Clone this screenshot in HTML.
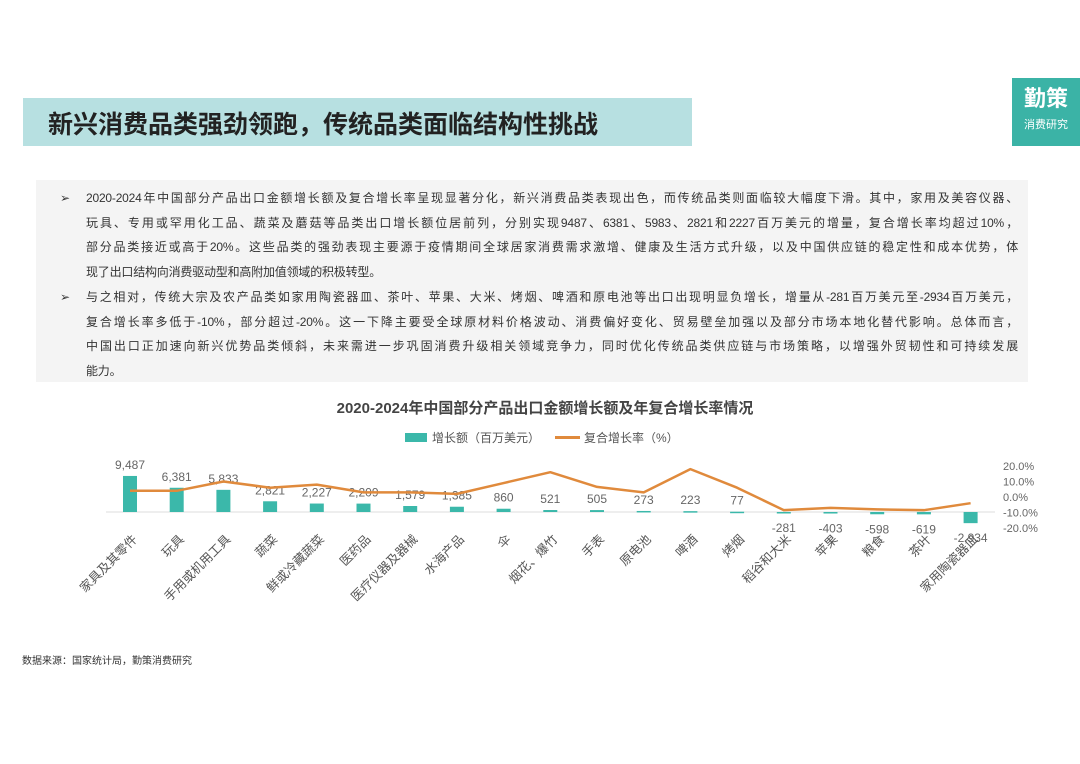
<!DOCTYPE html>
<html><head><meta charset="utf-8"><style>
body{margin:0;width:1080px;height:764px;background:#fff;position:relative;overflow:hidden;font-family:"Liberation Sans","Noto Sans CJK SC",sans-serif;}
.banner{position:absolute;left:23px;top:98px;width:669px;height:48px;background:#b7e0e1;}
.banner span{position:absolute;left:25px;top:7px;font-size:25px;font-weight:bold;color:#222;}
.logo{position:absolute;left:1012px;top:78px;width:68px;height:68px;background:#3bb3a6;color:#fff;text-align:center;}
.logo .a{font-size:22px;font-weight:bold;margin-top:8px;line-height:26px;}
.logo .b{font-size:11px;margin-top:4px;}
.box{position:absolute;left:36px;top:180px;width:992px;height:202px;background:#f4f4f4;}
.p{position:absolute;left:50px;width:970px;font-size:12px;line-height:24.7px;color:#333;}
.p .ar{position:absolute;left:10px;}
.p .t{margin-left:36px;width:932px;}
.p .l{white-space:nowrap;text-align:justify;text-align-last:justify;letter-spacing:-0.2px;}
.p .l.last{text-align-last:left;}
.src{position:absolute;left:22px;top:652px;font-size:10px;color:#333;}
</style></head><body>
<div class="banner"><span>新兴消费品类强劲领跑，传统品类面临结构性挑战</span></div>
<div class="logo"><div class="a">勤策</div><div class="b">消费研究</div></div>
<div class="box"></div>
<div class="p" style="top:186px"><span class="ar">➢</span><div class="t">
<div class="l">2020-2024年中国部分产品出口金额增长额及复合增长率呈现显著分化，新兴消费品类表现出色，而传统品类则面临较大幅度下滑。其中，家用及美容仪器、</div>
<div class="l">玩具、专用或罕用化工品、蔬菜及蘑菇等品类出口增长额位居前列，分别实现9487、6381、5983、2821和2227百万美元的增量，复合增长率均超过10%，</div>
<div class="l">部分品类接近或高于20%。这些品类的强劲表现主要源于疫情期间全球居家消费需求激增、健康及生活方式升级，以及中国供应链的稳定性和成本优势，体</div>
<div class="l last">现了出口结构向消费驱动型和高附加值领域的积极转型。</div>
</div></div>
<div class="p" style="top:285px"><span class="ar">➢</span><div class="t">
<div class="l">与之相对，传统大宗及农产品类如家用陶瓷器皿、茶叶、苹果、大米、烤烟、啤酒和原电池等出口出现明显负增长，增量从-281百万美元至-2934百万美元，</div>
<div class="l">复合增长率多低于-10%，部分超过-20%。这一下降主要受全球原材料价格波动、消费偏好变化、贸易壁垒加强以及部分市场本地化替代影响。总体而言，</div>
<div class="l">中国出口正加速向新兴优势品类倾斜，未来需进一步巩固消费升级相关领域竞争力，同时优化传统品类供应链与市场策略，以增强外贸韧性和可持续发展</div>
<div class="l last">能力。</div>
</div></div>
<svg id="chart" width="1080" height="764" style="position:absolute;left:0;top:0"></svg>
<div class="src">数据来源：国家统计局，勤策消费研究</div>
<script>
const categories=["家具及其零件","玩具","手用或机用工具","蔬菜","鲜或冷藏蔬菜","医药品","医疗仪器及器械","水海产品","伞","烟花、爆竹","手表","原电池","啤酒","烤烟","稻谷和大米","苹果","粮食","茶叶","家用陶瓷器皿"];
const growthValues=[9487,6381,5833,2821,2227,2209,1579,1385,860,521,505,273,223,77,-281,-403,-598,-619,-2934];
const cagrValues=[4,4,10,6,8,3,3,2,9,16,6.5,3,18,6,-8.5,-7,-8,-8.5,-4];
const rightTicks=[20,10,0,-10,-20];
const NS="http://www.w3.org/2000/svg";
const svg=document.getElementById('chart');
function mk(t,a,txt){const e=document.createElementNS(NS,t);for(const k in a)e.setAttribute(k,a[k]);if(txt!==undefined)e.textContent=txt;svg.appendChild(e);return e;}
const x0=130,dx=46.7,base=512;
const xs=i=>x0+i*dx;
const yBar=v=>base-v*0.0038;
const yR=v=>497-v*1.55;
const font='"Liberation Sans","Noto Sans CJK SC",sans-serif';
let t=mk('text',{x:545,y:413,'text-anchor':'middle','font-size':15,'font-weight':'bold',fill:'#444','font-family':font},'2020-2024年中国部分产品出口金额增长额及年复合增长率情况');


let r=mk('rect',{x:405,y:433,width:22,height:9,fill:'#3bb8aa'});


t=mk('text',{x:432,y:442,'font-size':12,fill:'#555','font-family':font},'增长额（百万美元）');


let l=mk('line',{x1:555,y1:437.5,x2:580,y2:437.5,stroke:'#e08a3c','stroke-width':3});


t=mk('text',{x:584,y:442,'font-size':12,fill:'#555','font-family':font},'复合增长率（%）');


l=mk('line',{x1:106,y1:base,x2:995,y2:base,stroke:'#ddd','stroke-width':1});


rightTicks.forEach(v=>{const e=mk('text',{x:1003,y:yR(v)+4,'font-size':11,fill:'#666','font-family':font},v.toFixed(1)+'%');

});
growthValues.forEach((v,i)=>{
 const y=yBar(v);const h=Math.abs(base-y);
 const b=mk('rect',{x:xs(i)-7,y:Math.min(y,base),width:14,height:Math.max(h,1.5),fill:'#3bb8aa'});
 
 
 const lab=v>=0?(y-7):(Math.max(y,base)+19);
 const e=mk('text',{x:xs(i),y:lab,'text-anchor':'middle','font-size':12,fill:'#666','font-family':font},v.toLocaleString('en-US'));
 
 
});
let d='';cagrValues.forEach((v,i)=>{d+=(i?'L':'M')+xs(i)+' '+yR(v);});
const p=mk('path',{d:d,fill:'none',stroke:'#e08a3c','stroke-width':2.5,'stroke-linejoin':'round'});


categories.forEach((c,i)=>{
 const ax=xs(i)+8,ay=540;
 const e=mk('text',{x:ax,y:ay,'text-anchor':'end','font-size':12.5,fill:'#555','font-family':font,transform:`rotate(-45 ${ax} ${ay})`},c);
 
 
});
</script>
</body></html>
